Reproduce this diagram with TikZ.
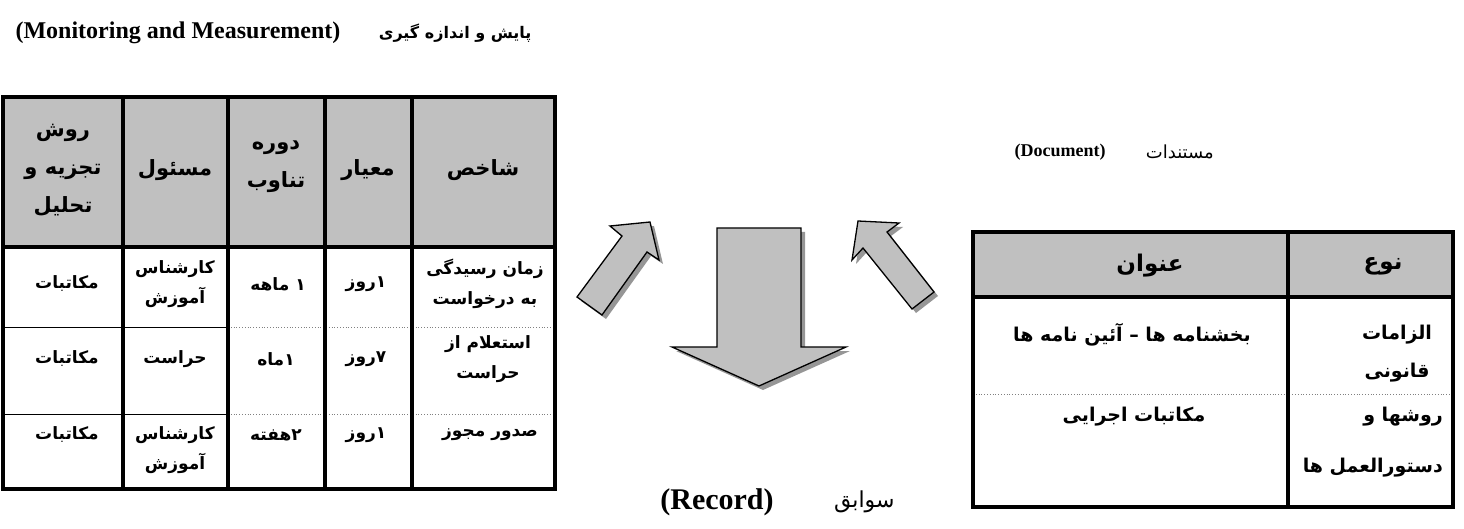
\documentclass[tikz,border=0pt]{standalone}
\usepackage{fontspec}
\setmainfont{Liberation Serif}
\newfontfamily\farsi[Script=Arabic]{DejaVu Sans}
\TeXXeTstate=1
\newcommand{\fa}[1]{{\farsi\beginR #1\endR}}
\usepackage{tikz}
\usetikzlibrary{positioning}
\definecolor{cellgray}{RGB}{192,192,192}
\definecolor{shadowgray}{RGB}{150,150,150}

\begin{document}
\begin{tikzpicture}[x=1pt,y=-1pt,node distance=38pt,
  frame/.style={line width=4pt},
  blockarrow/.style={fill=cellgray,draw=black,line width=1.3pt,line join=miter},
  arrowshadow/.style={fill=shadowgray,shift={(4,4)}},
  head/.style={inner sep=0pt,align=center,font=\farsi\bfseries\fontsize{21}{38}\selectfont},
  cell/.style={inner sep=0pt,align=center,font=\farsi\bfseries\fontsize{17}{30}\selectfont},
  big/.style={inner sep=0pt,align=center,font=\farsi\bfseries\fontsize{19}{38}\selectfont},
  entitle/.style={inner sep=0pt,font=\bfseries\fontsize{24}{28}\selectfont},
  facap/.style={inner sep=0pt,font=\farsi\fontsize{18}{22}\selectfont}]
  \useasboundingbox (0,0) rectangle (1464,529);

  \fill[cellgray] (3,97) rectangle (555,247);
  \draw[line width=0.8pt] (3,327) -- (228,327);
  \draw[line width=0.8pt] (3,414) -- (228,414);
  \draw[gray,dotted,line width=0.8pt] (228,327) -- (555,327);
  \draw[gray,dotted,line width=0.8pt] (228,414) -- (555,414);
  \foreach \x in {123,228,325,412}
    \draw[frame] (\x,97) -- (\x,489);
  \draw[frame] (3,247) -- (555,247);
  \draw[frame] (3,97) rectangle (555,489);

  \node[head] (h1) at (63,170) {\fa{روش}\\\fa{تجزیه و}\\\fa{تحلیل}};
  \node[head] (h2) at (175,170) {\fa{مسئول}};
  \node[head] (h3) at (276,167) {\fa{دوره}\\\fa{تناوب}};
  \node[head] (h4) at (368,170) {\fa{معیار}};
  \node[head] (h5) at (483,170) {\fa{شاخص}};

  \node[cell] (a1) at (67,284) {\fa{مکاتبات}};
  \node[cell] (a2) at (175,284) {\fa{کارشناس}\\\fa{آموزش}};
  \node[cell] (a3) at (278,284) {\fa{۱ ماهه}};
  \node[cell] (a4) at (366,284) {\fa{\mbox{۱}روز}};
  \node[cell] (a5) at (485,284) {\fa{زمان رسیدگی}\\\fa{به درخواست}};

  \node[cell] (b1) at (67,359) {\fa{مکاتبات}};
  \node[cell] (b2) at (175,359) {\fa{حراست}};
  \node[cell] (b3) at (276,359) {\fa{\mbox{۱}ماه}};
  \node[cell] (b4) at (366,359) {\fa{\mbox{۷}روز}};
  \node[cell] (b5) at (488,359) {\fa{استعلام از}\\\fa{حراست}};

  \node[cell] (c1) at (67,435) {\fa{مکاتبات}};
  \node[cell] (c2) at (175,450) {\fa{کارشناس}\\\fa{آموزش}};
  \node[cell] (c3) at (276,435) {\fa{\mbox{۲}هفته}};
  \node[cell] (c4) at (366,435) {\fa{\mbox{۱}روز}};
  \node[cell] (c5) at (490,435) {\fa{صدور مجوز}};

  \fill[cellgray] (973,232) rectangle (1453,297);
  \draw[gray,dotted,line width=0.8pt] (973,394) -- (1453,394);
  \draw[frame] (1288,232) -- (1288,507);
  \draw[frame] (973,297) -- (1453,297);
  \draw[frame] (973,232) rectangle (1453,507);

  \node[big,font=\farsi\bfseries\fontsize{23}{28}\selectfont] (t1) at (1150,266) {\fa{عنوان}};
  \node[big,font=\farsi\bfseries\fontsize{23}{28}\selectfont] (t2) at (1383,266) {\fa{نوع}};
  \node[big] (d1) at (1132,335) {\fa{بخشنامه ها – آئین نامه ها}};
  \node[big] (d2) at (1397,354) {\fa{الزامات}\\\fa{قانونی}};
  \node[big] (e1) at (1134,417) {\fa{مکاتبات اجرایی}};
  \node[big,align=right,anchor=east] (e2) at (1443,442) {\fa{روشها و}\\[13pt]\fa{دستورالعمل ها}};

  \fill[arrowshadow] (610,226) -- (650,222) -- (659,260) -- (647,252) -- (602,315) -- (577,297) -- (622,236) -- cycle;
  \filldraw[blockarrow] (610,226) -- (650,222) -- (659,260) -- (647,252) -- (602,315) -- (577,297) -- (622,236) -- cycle;
  \fill[arrowshadow] (717,228) -- (801,228) -- (801,347) -- (846,347) -- (759,386) -- (672,347) -- (717,347) -- cycle;
  \filldraw[blockarrow] (717,228) -- (801,228) -- (801,347) -- (846,347) -- (759,386) -- (672,347) -- (717,347) -- cycle;
  \fill[arrowshadow] (858,221) -- (899,223) -- (887,232) -- (934,292) -- (912,309) -- (863,248) -- (852,260) -- cycle;
  \filldraw[blockarrow] (858,221) -- (899,223) -- (887,232) -- (934,292) -- (912,309) -- (863,248) -- (852,260) -- cycle;

  \node[entitle] (mon) at (178,33) {(Monitoring and Measurement)};
  \node[facap,font=\farsi\bfseries\fontsize{16}{20}\selectfont,right=of mon] (monfa) {\fa{پایش و اندازه گیری}};
  \node[entitle,font=\bfseries\fontsize{18}{22}\selectfont] (doc) at (1060,152) {(Document)};
  \node[facap,right=40pt of doc] (docfa) {\fa{مستندات}};
  \node[entitle,font=\bfseries\fontsize{30}{34}\selectfont] (rec) at (717,502) {(Record)};
  \node[facap,font=\farsi\fontsize{22}{26}\selectfont,right=60pt of rec] (recfa) {\fa{سوابق}};
\end{tikzpicture}
\end{document}
